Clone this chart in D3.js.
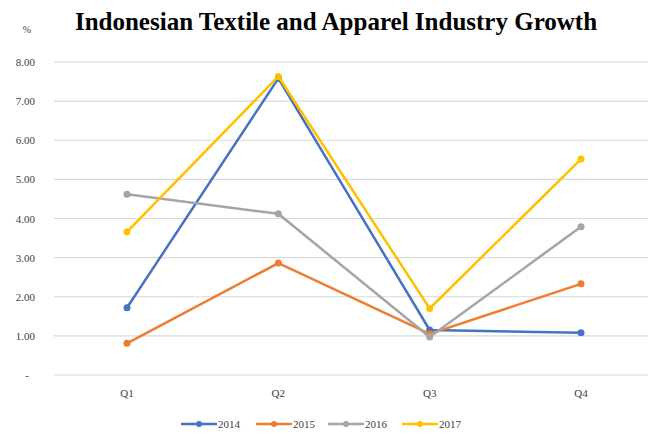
<!DOCTYPE html>
<meta charset="utf-8">
<html>
    <head>
        <style type="text/css">
            body { margin:0; background:#fff; }
            svg { display:block; }
            .graphText { font-family: "Liberation Serif", "Times New Roman", serif; }
        </style>
        <script src="https://d3js.org/d3.v7.min.js"></script>
    </head>
    <body>
        <svg width="648" height="435"></svg>
        <script type="text/javascript">
            var quarters = ["Q1", "Q2", "Q3", "Q4"];
            var years = ["2014", "2015", "2016", "2017"];
            var values2014 = [1.72, 7.58, 1.15, 1.08];
            var values2015 = [0.81, 2.86, 1.05, 2.33];
            var values2016 = [4.62, 4.12, 0.97, 3.79];
            var values2017 = [3.66, 7.63, 1.70, 5.52];
            var yTicks = [0, 1, 2, 3, 4, 5, 6, 7, 8];
            var colors = ["#4472C4", "#ED7D31", "#A5A5A5", "#FFC000"];

            var series = [values2014, values2015, values2016, values2017].map((v, i) => ({
                name: years[i], color: colors[i],
                points: v.map((d, j) => ({q: quarters[j], v: d}))
            }));

            var width = 648, height = 435;
            var margin = {top: 62, bottom: 60, left: 54, right: 0};

            var svg = d3.select("svg");

            var xScale = d3.scalePoint()
                .domain(quarters)
                .range([127, 581]);

            var yScale = d3.scaleLinear()
                .domain([0, 8])
                .range([375, 62]);

            // gridlines
            svg.append("g")
                .selectAll("line")
                .data(yTicks)
                .enter().append("line")
                .attr("x1", margin.left)
                .attr("x2", width)
                .attr("y1", d => yScale(d))
                .attr("y2", d => yScale(d))
                .attr("stroke", "#d9d9d9")
                .attr("stroke-width", 1.2);

            // y labels
            svg.append("g")
                .attr("class", "graphText")
                .selectAll("text")
                .data(yTicks)
                .enter().append("text")
                .attr("x", d => d === 0 ? 29 : 35)
                .attr("y", d => yScale(d) + 4)
                .attr("text-anchor", "end")
                .attr("fill", "#404040")
                .style("font-size", "11px")
                .text(d => d === 0 ? "-" : d3.format(".2f")(d));

            // x labels
            svg.append("g")
                .attr("class", "graphText")
                .selectAll("text")
                .data(quarters)
                .enter().append("text")
                .attr("x", d => xScale(d))
                .attr("y", 397)
                .attr("text-anchor", "middle")
                .attr("fill", "#404040")
                .style("font-size", "11px")
                .text(d => d);

            var line = d3.line()
                .x(d => xScale(d.q))
                .y(d => yScale(d.v));

            var groups = svg.selectAll(".series")
                .data(series)
                .enter().append("g")
                .attr("class", "series");

            groups.append("path")
                .attr("d", d => line(d.points))
                .attr("fill", "none")
                .attr("stroke", d => d.color)
                .attr("stroke-width", 2.5)
                .attr("stroke-linejoin", "round");

            groups.each(function(s) {
                d3.select(this).selectAll("circle")
                    .data(s.points)
                    .enter().append("circle")
                    .attr("cx", d => xScale(d.q))
                    .attr("cy", d => yScale(d.v))
                    .attr("r", 3.5)
                    .attr("fill", s.color);
            });

            // legend
            var legendX = [181, 256, 328, 402];
            var legend = svg.selectAll(".legend")
                .data(series)
                .enter().append("g")
                .attr("class", "legend")
                .attr("transform", (d, i) => "translate(" + [legendX[i], 424] + ")");

            legend.append("line")
                .attr("x1", 0).attr("x2", 36)
                .attr("stroke", d => d.color)
                .attr("stroke-width", 2.5);
            legend.append("circle")
                .attr("cx", 18).attr("r", 3)
                .attr("fill", d => d.color);
            legend.append("text")
                .attr("class", "graphText")
                .attr("x", 37)
                .attr("y", 4)
                .attr("fill", "#404040")
                .style("font-size", "11px")
                .text(d => d.name);

            svg.append("text")
                .attr("class", "graphText")
                .attr("x", 27)
                .attr("y", 33)
                .attr("text-anchor", "middle")
                .attr("fill", "#404040")
                .style("font-size", "10px")
                .text("%");

            svg.append("text")
                .attr("class", "graphText")
                .attr("x", 336)
                .attr("y", 30)
                .attr("text-anchor", "middle")
                .style("font-size", "25px")
                .style("font-weight", "bold")
                .text("Indonesian Textile and Apparel Industry Growth");
        </script>
    </body>
</html>
